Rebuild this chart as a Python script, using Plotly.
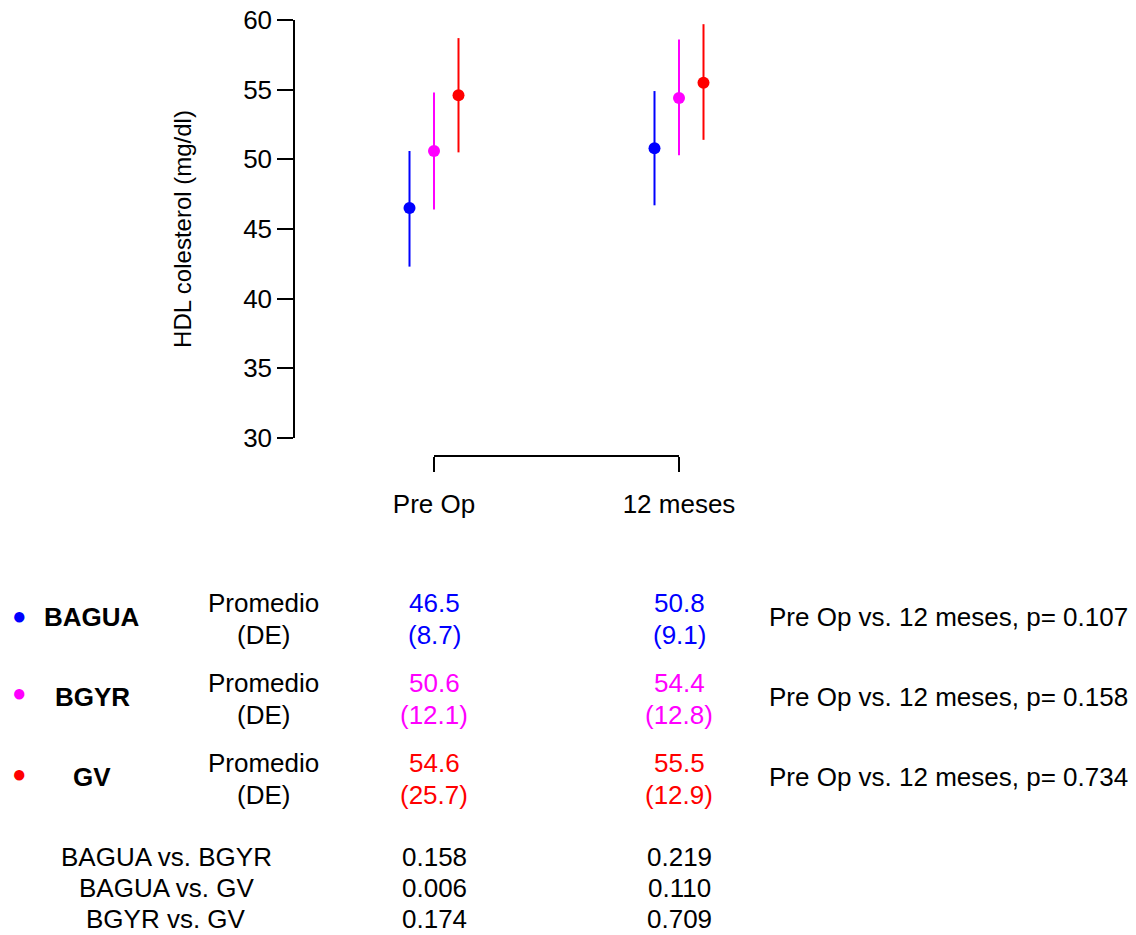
import plotly.graph_objects as go

# ---------------- data ----------------
groups = ["BAGUA", "BGYR", "GV"]
colors = ["#0000FF", "#FF00FF", "#FF0000"]
timepoints = ["Pre Op", "12 meses"]
time_x = [1, 2]
offsets = [-0.1, 0.0, 0.1]

mean_bagua = [46.5, 50.8]
lo_bagua = [42.3, 46.7]
hi_bagua = [50.6, 54.9]

mean_bgyr = [50.6, 54.4]
lo_bgyr = [46.4, 50.3]
hi_bgyr = [54.8, 58.6]

mean_gv = [54.6, 55.5]
lo_gv = [50.5, 51.4]
hi_gv = [58.7, 59.7]

de_bagua = ["8.7", "9.1"]
de_bgyr = ["12.1", "12.8"]
de_gv = ["25.7", "12.9"]

p_time = ["0.107", "0.158", "0.734"]

comparisons = ["BAGUA vs. BGYR", "BAGUA vs. GV", "BGYR vs. GV"]
p_pre = ["0.158", "0.006", "0.174"]
p_12 = ["0.219", "0.110", "0.709"]

y_ticks = [30, 35, 40, 45, 50, 55, 60]

means = [mean_bagua, mean_bgyr, mean_gv]
los = [lo_bagua, lo_bgyr, lo_gv]
his = [hi_bagua, hi_bgyr, hi_gv]
des = [de_bagua, de_bgyr, de_gv]

# ---------------- layout geometry (page pixels) ----------------
PAGE_OFF = 8                      # default body margin of the page
W, H = 1136 - PAGE_OFF, 935 - PAGE_OFF
PLOT_LEFT, PLOT_RIGHT = 295, 820  # page x of plot area
PLOT_TOP, PAPER_BOTTOM = 20, 456  # page y of top, and of bracket axis line
Y_AX_BOTTOM = 438                 # page y where y=30 sits

L = PLOT_LEFT - PAGE_OFF
R = (W + PAGE_OFF) - PLOT_RIGHT
T = PLOT_TOP - PAGE_OFF
B = (H + PAGE_OFF) - PAPER_BOTTOM
PW = PLOT_RIGHT - PLOT_LEFT
PH = PAPER_BOTTOM - PLOT_TOP

FONT = "Liberation Sans, Arial, sans-serif"
FS = 26

def px(xp):
    return (xp - PLOT_LEFT) / PW

def py(yp):
    return (PAPER_BOTTOM - yp) / PH

xmin = 1 - (434 - PLOT_LEFT) / 245.0
xmax = 2 + (PLOT_RIGHT - 679) / 245.0

fig = go.Figure()

for g, c, off, m, lo, hi in zip(groups, colors, offsets, means, los, his):
    fig.add_trace(go.Scatter(
        x=[t + off for t in time_x], y=m,
        mode="markers",
        marker=dict(color=c, size=12, line=dict(width=0)),
        error_y=dict(type="data", symmetric=False,
                     array=[h - v for h, v in zip(hi, m)],
                     arrayminus=[v - l for l, v in zip(lo, m)],
                     color=c, thickness=2, width=0),
        name=g, showlegend=False, cliponaxis=False,
    ))

# helper trace for the bracket axis
fig.add_trace(go.Scatter(x=time_x, y=[None, None], xaxis="x2", yaxis="y",
                         mode="markers", showlegend=False, hoverinfo="skip"))

ann = []

def text(x, y, s, color="black", xref="paper", xanchor="center", bold=False, size=FS):
    if bold:
        s = "<b>" + s + "</b>"
    ann.append(dict(x=x, y=y, xref=xref, yref="paper", text=s, showarrow=False,
                    xanchor=xanchor, yanchor="middle",
                    font=dict(family=FONT, size=size, color=color)))

row_y = [603, 683, 763]
dot_y = [615, 692, 773]
lab_y = [617, 697, 777]
for i, g in enumerate(groups):
    text(px(19), py(dot_y[i]), "●", colors[i], size=24)
    text(px(92), py(lab_y[i]), g, bold=True)
    text(px(263), py(row_y[i]), "Promedio")
    text(px(263), py(row_y[i] + 32), "(DE)")
    for j, t in enumerate(time_x):
        text(t, py(row_y[i]), f"{means[i][j]:.1f}", colors[i], xref="x")
        text(t, py(row_y[i] + 32), f"({des[i][j]})", colors[i], xref="x")
    text(px(767), py(row_y[i] + 14),
         f"{timepoints[0]} vs. {timepoints[1]}, p= {p_time[i]}", xanchor="left")

comp_y = [857, 888, 919]
for i, cname in enumerate(comparisons):
    text(px(166), py(comp_y[i]), cname)
    text(time_x[0], py(comp_y[i]), p_pre[i], xref="x")
    text(time_x[1], py(comp_y[i]), p_12[i], xref="x")

fig.update_layout(
    width=W, height=H,
    margin=dict(l=L, r=R, t=T, b=B, pad=0, autoexpand=False),
    paper_bgcolor="white", plot_bgcolor="rgba(0,0,0,0)",
    font=dict(family=FONT, size=FS, color="black"),
    xaxis=dict(range=[xmin, xmax], domain=[0, 1], showline=False, showgrid=False,
               zeroline=False, showticklabels=False, ticks="", anchor="y",
               automargin=False),
    xaxis2=dict(range=[1, 2], domain=[px(434), px(679)], anchor="free", position=0,
                showline=True, linecolor="black", linewidth=1.5,
                ticks="outside", ticklen=15, tickwidth=1.5, tickcolor="black",
                tickvals=time_x, ticktext=timepoints, showgrid=False, zeroline=False,
                tickfont=dict(family=FONT, size=FS, color="black"),
                ticklabelstandoff=10, automargin=False, ticklabeloverflow="allow"),
    yaxis=dict(range=[30, 60], domain=[py(Y_AX_BOTTOM), 1], anchor="x",
               tickvals=y_ticks, showline=True, linecolor="black", linewidth=1.5,
               ticks="outside", ticklen=16, tickwidth=1.5, tickcolor="black",
               showgrid=False, zeroline=False, automargin=False,
               ticklabeloverflow="allow",
               tickfont=dict(family=FONT, size=FS, color="black"),
               title=dict(text="HDL colesterol (mg/dl)", standoff=45,
                          font=dict(family=FONT, size=24, color="black"))),
    annotations=ann,
)

fig.write_html("out.html")
